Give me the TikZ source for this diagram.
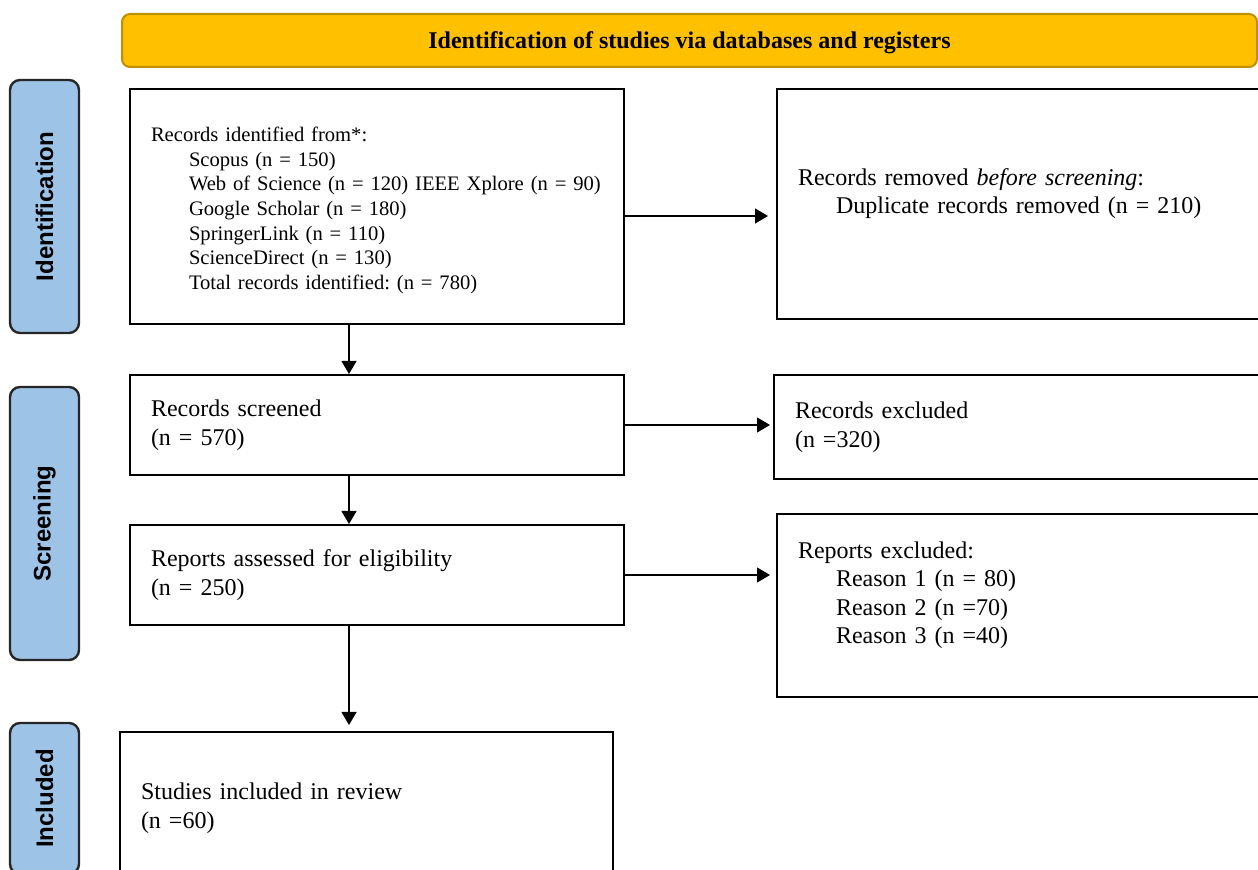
\documentclass[tikz,border=0pt]{standalone}
\usepackage{fontspec}
\setmainfont{Liberation Serif}
\setsansfont{Liberation Sans}
\usepackage{xcolor}
\usetikzlibrary{arrows.meta,positioning}
\frenchspacing
\definecolor{bannergold}{HTML}{FFC000}
\definecolor{bannerrim}{HTML}{BF9000}
\definecolor{stageblue}{HTML}{9DC3E6}
\tikzset{
  banner/.style={rectangle, draw=bannerrim, line width=1pt, rounded corners=4pt,
                 fill=bannergold, anchor=north west, text depth=0pt,
                 font=\fontsize{12pt}{14pt}\selectfont\bfseries},
  stagebox/.style={rectangle, draw=black!85, line width=1.2pt, rounded corners=5pt,
                   fill=stageblue, rotate=90, minimum height=34.5pt, minimum width=#1,
                   font=\fontsize{12pt}{14pt}\selectfont\sffamily\bfseries},
  flowbox/.style={rectangle, draw=black, line width=1pt, anchor=north west,
                  align=left, inner xsep=10.5pt, minimum height=#1,
                  font=\fontsize{12pt}{14.25pt}\selectfont},
  arr/.style={-{Triangle[length=6.5pt,width=7.5pt]}, line width=0.6pt, draw=black},
}
\begin{document}
\begin{tikzpicture}[x=0.5pt, y=-0.5pt]
  \useasboundingbox (0,0) rectangle (1258,870);
  \clip (0,0) rectangle (1258,870);
  \node[banner, minimum width=567.5pt, minimum height=26.5pt] (head) at (121,13) {Identification of studies via databases and registers};
  \node[stagebox=126.5pt] (sideid)  at (44.5,206.5) {Identification};
  \node[stagebox=136.5pt] (sidescr) at (44.5,523.5) {Screening};
  \node[stagebox=75.5pt]  (sideinc) at (44.5,798.5) {Included};
  \node[flowbox=117.5pt, text width=226pt, font=\fontsize{10.3pt}{12.3pt}\selectfont] (recid) at (129,88)
    {\mbox{}\\[-1pt]Records identified from*:\\
     \hspace*{19pt}Scopus (n = 150)\\
     \hspace*{19pt}\mbox{Web of Science (n = 120) IEEE Xplore (n = 90)}\\
     \hspace*{19pt}Google Scholar (n = 180)\\
     \hspace*{19pt}SpringerLink (n = 110)\\
     \hspace*{19pt}ScienceDirect (n = 130)\\
     \hspace*{19pt}Total records identified: (n = 780)};
  \node[flowbox=115pt, text width=239pt] (recrem) at (776,88)
    {Records removed \textit{before screening}:\\
     \hspace*{19pt}Duplicate records removed (n = 210)\\[-1.5pt]\mbox{}};
  \node[flowbox=50pt, text width=226pt]   (recscr) at (129,374) {Records screened\\(n = 570)};
  \node[flowbox=52pt, text width=240.5pt] (recexc) at (773,374) {Records excluded\\(n =320)};
  \node[flowbox=50pt, text width=226pt]   (repass) at (129,524) {Reports assessed for eligibility\\(n = 250)};
  \node[flowbox=91.5pt, text width=239pt] (repexc) at (776,513)
    {Reports excluded:\\
     \hspace*{19pt}Reason 1 (n = 80)\\
     \hspace*{19pt}Reason 2 (n =70)\\
     \hspace*{19pt}Reason 3 (n =40)\\[-1.5pt]\mbox{}};
  \node[flowbox=76pt, text width=225.5pt] (incl) at (119,731) {Studies included in review\\(n =60)};
  \coordinate (tapid) at ([yshift=-4.75pt]recid.east);
  \coordinate (tapscr) at (recscr.east);
  \coordinate (tapass) at (repass.east);
  \foreach \a/\b/\g in {tapid/recrem/4pt, tapscr/recexc/1.5pt, tapass/repexc/3pt}
    \draw[arr, shorten >=\g] (\a) -- (\a -| \b.west);
  \coordinate (dropid)  at ([xshift=-14pt]recid.south);
  \coordinate (dropscr) at ([xshift=-14pt]recscr.south);
  \coordinate (dropass) at ([xshift=-14pt]repass.south);
  \foreach \a/\b/\g in {dropid/recscr/0pt, dropscr/repass/0pt, dropass/incl/3pt}
    \draw[arr, shorten >=\g] (\a) -- (\a |- \b.north);
\end{tikzpicture}
\end{document}
